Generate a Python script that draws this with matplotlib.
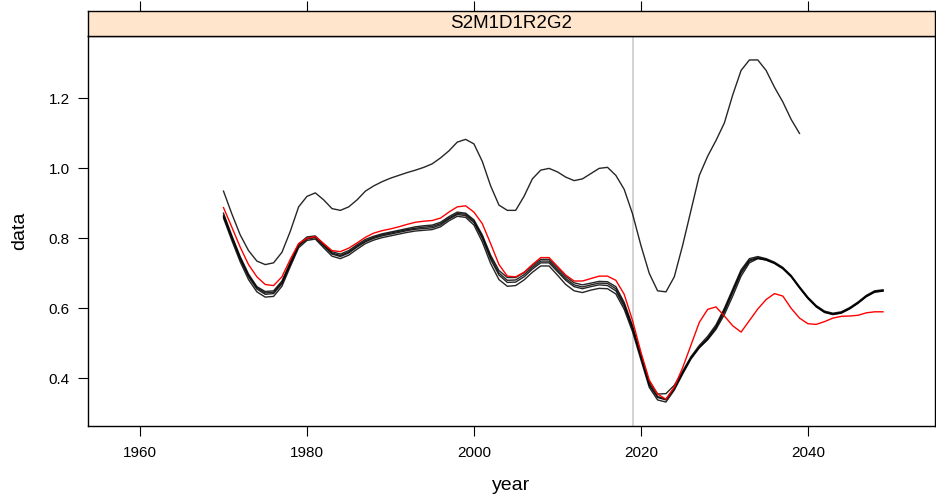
import numpy as np
import matplotlib
matplotlib.use("Agg")
import matplotlib.pyplot as plt

plt.rcParams['font.family'] = ['Liberation Sans', 'DejaVu Sans']

panel_title = "S2M1D1R2G2"
x_label = "year"
y_label = "data"
ref_year = 2019

years = list(range(1970, 2050))
years_high = list(range(1970, 2040))

# bundle of simulated trajectories
sim_a = [0.862, 0.800, 0.740, 0.690, 0.655, 0.640, 0.642, 0.670, 0.725, 0.778,
         0.798, 0.802, 0.778, 0.755, 0.748, 0.758, 0.775, 0.790, 0.800, 0.807,
         0.812, 0.817, 0.822, 0.826, 0.828, 0.830, 0.838, 0.855, 0.868, 0.865,
         0.845, 0.800, 0.740, 0.695, 0.674, 0.675, 0.690, 0.712, 0.730, 0.730,
         0.705, 0.680, 0.662, 0.656, 0.662, 0.667, 0.665, 0.650, 0.605, 0.540,
         0.460, 0.380, 0.345, 0.338, 0.370, 0.415, 0.458, 0.490, 0.515, 0.548,
         0.595, 0.650, 0.705, 0.738, 0.745, 0.740, 0.730, 0.715, 0.692, 0.660,
         0.630, 0.606, 0.590, 0.584, 0.588, 0.600, 0.616, 0.635, 0.648, 0.651]
sim_b = [0.872, 0.808, 0.748, 0.698, 0.662, 0.648, 0.650, 0.678, 0.732, 0.784,
         0.804, 0.807, 0.784, 0.762, 0.755, 0.765, 0.782, 0.797, 0.806, 0.813,
         0.818, 0.823, 0.828, 0.833, 0.836, 0.838, 0.846, 0.862, 0.875, 0.872,
         0.853, 0.810, 0.752, 0.708, 0.688, 0.688, 0.702, 0.722, 0.740, 0.740,
         0.716, 0.691, 0.673, 0.667, 0.672, 0.677, 0.676, 0.662, 0.617, 0.550,
         0.468, 0.390, 0.355, 0.356, 0.380, 0.420, 0.462, 0.494, 0.520, 0.553,
         0.600, 0.655, 0.710, 0.742, 0.748, 0.742, 0.732, 0.717, 0.694, 0.662,
         0.632, 0.608, 0.592, 0.586, 0.590, 0.602, 0.618, 0.637, 0.650, 0.653]
sim_c = [0.858, 0.794, 0.733, 0.682, 0.647, 0.632, 0.634, 0.663, 0.719, 0.773,
         0.794, 0.798, 0.773, 0.749, 0.742, 0.752, 0.769, 0.785, 0.795, 0.802,
         0.807, 0.812, 0.817, 0.821, 0.823, 0.825, 0.833, 0.850, 0.863, 0.860,
         0.838, 0.790, 0.728, 0.682, 0.663, 0.665, 0.681, 0.703, 0.721, 0.721,
         0.695, 0.668, 0.650, 0.645, 0.652, 0.657, 0.656, 0.641, 0.597, 0.533,
         0.453, 0.374, 0.338, 0.332, 0.366, 0.412, 0.455, 0.487, 0.512, 0.544,
         0.590, 0.645, 0.700, 0.735, 0.743, 0.738, 0.728, 0.713, 0.690, 0.658,
         0.628, 0.604, 0.588, 0.582, 0.586, 0.598, 0.614, 0.633, 0.646, 0.649]
sim_d = [0.866, 0.804, 0.744, 0.694, 0.659, 0.644, 0.646, 0.674, 0.728, 0.781,
         0.800, 0.804, 0.781, 0.758, 0.751, 0.761, 0.778, 0.793, 0.803, 0.810,
         0.815, 0.820, 0.825, 0.829, 0.832, 0.834, 0.842, 0.858, 0.871, 0.869,
         0.849, 0.805, 0.746, 0.701, 0.680, 0.681, 0.696, 0.717, 0.735, 0.735,
         0.710, 0.685, 0.667, 0.661, 0.667, 0.672, 0.671, 0.656, 0.611, 0.545,
         0.464, 0.384, 0.348, 0.340, 0.372, 0.416, 0.458, 0.488, 0.510, 0.540,
         0.582, 0.635, 0.692, 0.730, 0.742, 0.738, 0.729, 0.714, 0.691, 0.659,
         0.629, 0.605, 0.589, 0.583, 0.587, 0.599, 0.615, 0.634, 0.647, 0.650]

# reference trajectory (red)
ref = [0.888, 0.832, 0.775, 0.725, 0.690, 0.668, 0.665, 0.690, 0.740, 0.785,
       0.800, 0.805, 0.785, 0.765, 0.762, 0.772, 0.787, 0.803, 0.815, 0.822,
       0.827, 0.833, 0.840, 0.846, 0.849, 0.851, 0.858, 0.875, 0.890, 0.893,
       0.875, 0.842, 0.785, 0.725, 0.692, 0.690, 0.703, 0.725, 0.745, 0.745,
       0.720, 0.695, 0.678, 0.678, 0.685, 0.692, 0.692, 0.680, 0.640, 0.565,
       0.475, 0.395, 0.355, 0.340, 0.375, 0.430, 0.495, 0.560, 0.597, 0.604,
       0.578, 0.550, 0.532, 0.565, 0.598, 0.625, 0.642, 0.635, 0.600, 0.572,
       0.556, 0.554, 0.562, 0.572, 0.577, 0.578, 0.580, 0.587, 0.590, 0.590]

# upper trajectory, ends in 2039
high = [0.935, 0.870, 0.810, 0.765, 0.735, 0.725, 0.730, 0.760, 0.820, 0.890,
        0.920, 0.930, 0.910, 0.885, 0.880, 0.890, 0.910, 0.935, 0.950, 0.962,
        0.972, 0.980, 0.988, 0.995, 1.003, 1.013, 1.030, 1.050, 1.075, 1.083,
        1.070, 1.020, 0.950, 0.895, 0.880, 0.880, 0.920, 0.970, 0.995, 1.000,
        0.990, 0.975, 0.965, 0.970, 0.985, 1.000, 1.003, 0.980, 0.940, 0.870,
        0.780, 0.700, 0.650, 0.647, 0.690, 0.780, 0.880, 0.980, 1.035, 1.080,
        1.130, 1.210, 1.280, 1.310, 1.310, 1.280, 1.232, 1.190, 1.140, 1.100]

x_ticks = [1960, 1980, 2000, 2020, 2040]
y_ticks = [0.4, 0.6, 0.8, 1.0, 1.2]
y_ticklabels = ["0.4", "0.6", "0.8", "1.0", "1.2"]

W, H = 936, 497
fig = plt.figure(figsize=(W / 100, H / 100), dpi=100)
L, R, B, T = 88, 935, 426, 36
ax = fig.add_axes([L / W, 1 - B / H, (R - L) / W, (B - T) / H])
sax = fig.add_axes([L / W, 1 - T / H, (R - L) / W, 25 / H], sharex=ax)

ax.axvline(ref_year, color="#c8c8c8", lw=1.1, zorder=1)
for s in (sim_a, sim_b, sim_c, sim_d):
    ax.plot(years, s, color="black", lw=1.0, alpha=0.85, zorder=2)
ax.plot(years, ref, color="red", lw=1.0, zorder=3)
ax.plot(years_high, high, color="black", lw=1.0, alpha=0.85, zorder=2)

# lattice-style limits: data range 1960-2049 with 7% padding
xmin, xmax = 1960, 2049
pad = 0.07 * (xmax - xmin)
ax.set_xlim(xmin - pad, xmax + pad)
allv = sim_a + sim_b + sim_c + sim_d + ref + high
lo, hi = min(allv), max(allv)
ypad = 0.07 * (hi - lo)
ax.set_ylim(lo - ypad, hi + ypad)

ax.set_xticks(x_ticks)
ax.set_yticks(y_ticks)
ax.set_yticklabels(y_ticklabels)
ax.tick_params(axis="both", direction="out", length=7.2, width=0.8,
               labelsize=11, colors="black", pad=6)
ax.tick_params(axis="x", pad=7.5)
for sp in ax.spines.values():
    sp.set_linewidth(1.0)
ax.set_xlabel(x_label, fontsize=14, labelpad=12)
ax.set_ylabel(y_label, fontsize=14, labelpad=14.5)

# strip on top of the panel
sax.set_facecolor("#ffe5cc")
sax.set_ylim(0, 1)
sax.set_yticks([])
sax.xaxis.tick_top()
sax.tick_params(axis="x", direction="out", length=7.2, width=0.8,
                labeltop=False, labelbottom=False, bottom=False, top=True)
for sp in sax.spines.values():
    sp.set_linewidth(1.0)
sax.text(0.5, 0.5, panel_title, transform=sax.transAxes, ha="center",
         va="center", fontsize=13.5)

fig.savefig("out.png", dpi=100)
